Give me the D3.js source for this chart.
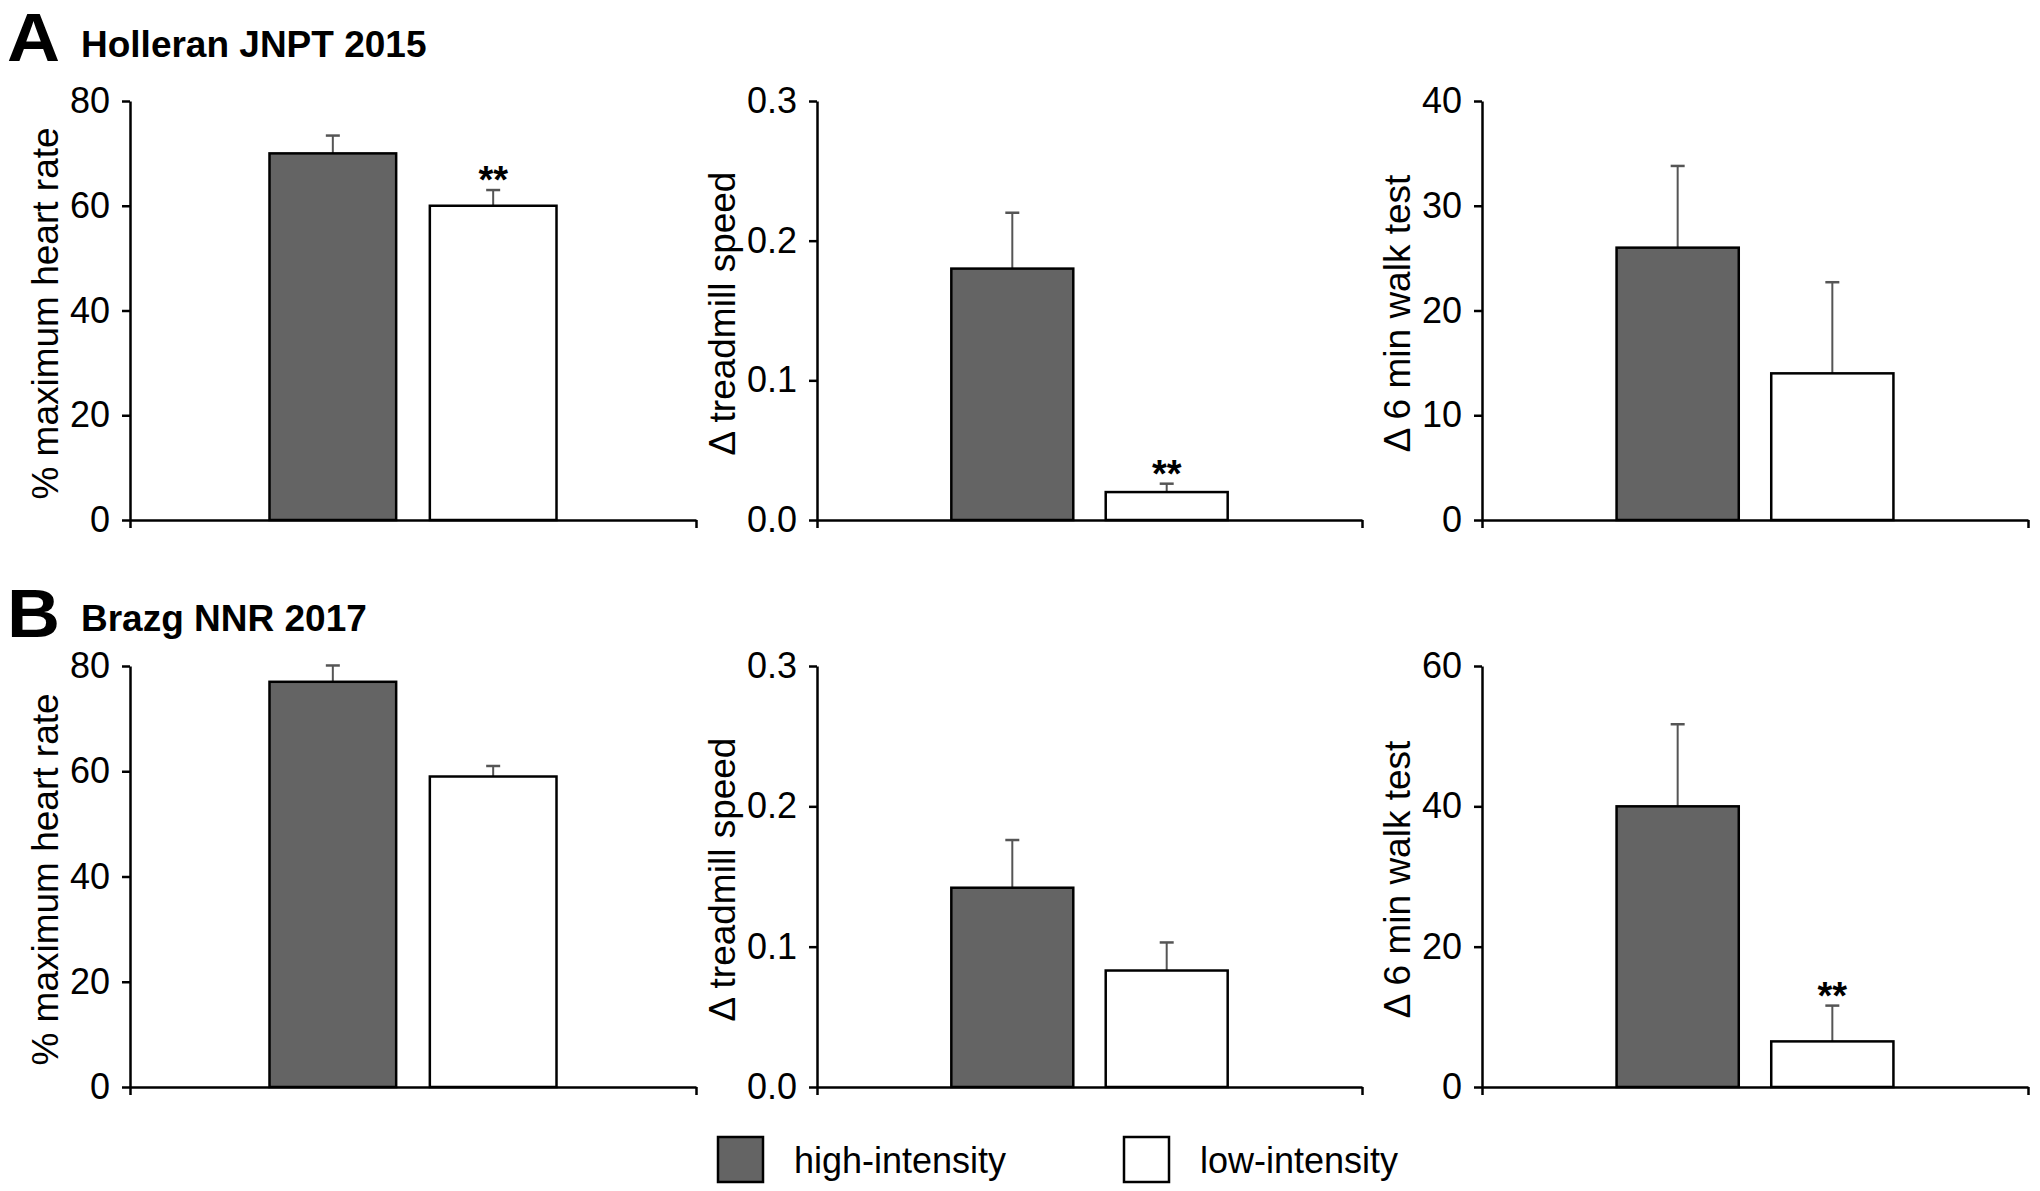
<!DOCTYPE html>
<html>
<head>
<meta charset="utf-8">
<script src="https://cdn.jsdelivr.net/npm/d3@7"></script>
<style>
  html, body { margin: 0; padding: 0; background: #fff; }
  svg { display: block; }
  text { font-family: "Liberation Sans", Arial, sans-serif; fill: #000; }
</style>
</head>
<body>
<svg id="chart" width="2040" height="1191"></svg>
<script>
// ---- data ----
const groups = ["high-intensity", "low-intensity"];
const panelLetters = ["A", "B"];
const studies = ["Holleran JNPT 2015", "Brazg NNR 2017"];
const measures = ["% maximum heart rate", "\u0394 treadmill speed", "\u0394 6 min walk test"];
const highMeans = [[70, 0.18, 26], [77, 0.142, 40]];
const highErr   = [[3.4, 0.04, 7.8], [3.1, 0.034, 11.7]];
const lowMeans  = [[60, 0.02, 14], [59, 0.083, 6.5]];
const lowErr    = [[3.0, 0.006, 8.7], [2.0, 0.02, 5.1]];
const yMax      = [[80, 0.3, 40], [80, 0.3, 60]];
const yTicks    = [[[0, 20, 40, 60, 80], [0, 0.1, 0.2, 0.3], [0, 10, 20, 30, 40]],
                   [[0, 20, 40, 60, 80], [0, 0.1, 0.2, 0.3], [0, 20, 40, 60]]];
const tickFormats = ["d", ".1f", "d"];
const sigLow    = [[true, true, false], [false, false, true]];
const sigLabel  = "**";
const groupFill = ["#646464", "#ffffff"];

// ---- layout ----
const axisX = [130, 817, 1482];
const axisW = [566, 545, 546];
const rowTop = [101, 666];
const rowBottom = [520, 1087];

const svg = d3.select("#chart");

for (let r = 0; r < 2; r++) {
  // panel letter + study title
  svg.append("text")
    .attr("x", 7).attr("y", r === 0 ? 61 : 637)
    .attr("font-size", 68).attr("font-weight", "bold")
    .attr("transform", `translate(${7},${r === 0 ? 61 : 637}) scale(1.08,1) translate(${-7},${-(r === 0 ? 61 : 637)})`)
    .text(panelLetters[r]);
  svg.append("text")
    .attr("x", 81).attr("y", r === 0 ? 57 : 631)
    .attr("font-size", 37).attr("font-weight", "bold")
    .text(studies[r]);

  for (let c = 0; c < 3; c++) {
    const g = svg.append("g").attr("transform", `translate(${axisX[c]},0)`);
    const y = d3.scaleLinear().domain([0, yMax[r][c]]).range([rowBottom[r], rowTop[r]]);
    const x = d3.scaleBand().domain(groups).range([0, axisW[c]])
      .paddingInner(0.21).paddingOuter(0.87);

    const means = [highMeans[r][c], lowMeans[r][c]];
    const errs = [highErr[r][c], lowErr[r][c]];
    const data = groups.map((gname, i) => ({ g: gname, v: means[i], e: errs[i], fill: groupFill[i], sig: i === 1 && sigLow[r][c] }));

    // error bars
    const eb = g.selectAll(".eb").data(data).enter().append("g");
    eb.append("line")
      .attr("x1", d => x(d.g) + x.bandwidth() / 2)
      .attr("x2", d => x(d.g) + x.bandwidth() / 2)
      .attr("y1", d => y(d.v))
      .attr("y2", d => y(d.v + d.e))
      .attr("stroke", "#555").attr("stroke-width", 2);
    eb.append("line")
      .attr("x1", d => x(d.g) + x.bandwidth() / 2 - 7)
      .attr("x2", d => x(d.g) + x.bandwidth() / 2 + 7)
      .attr("y1", d => y(d.v + d.e))
      .attr("y2", d => y(d.v + d.e))
      .attr("stroke", "#555").attr("stroke-width", 2.5);

    // bars
    g.selectAll(".bar").data(data).enter().append("rect")
      .attr("x", d => x(d.g))
      .attr("y", d => y(d.v))
      .attr("width", x.bandwidth())
      .attr("height", d => y(0) - y(d.v))
      .attr("fill", d => d.fill)
      .attr("stroke", "#000").attr("stroke-width", 2.5);

    // significance stars
    g.selectAll(".sig").data(data.filter(d => d.sig)).enter().append("text")
      .attr("x", d => x(d.g) + x.bandwidth() / 2)
      .attr("y", d => y(d.v + d.e) + 3)
      .attr("text-anchor", "middle")
      .attr("font-size", 38).attr("font-weight", "bold")
      .text(sigLabel);

    // y axis
    const yAxis = g.append("g")
      .call(d3.axisLeft(y).tickValues(yTicks[r][c]).tickFormat(d3.format(tickFormats[c]))
        .tickSize(8).tickSizeOuter(0).tickPadding(12));
    yAxis.selectAll("path, line").attr("stroke", "#000").attr("stroke-width", 2.5);
    yAxis.selectAll("text").attr("font-size", 36).attr("font-family", "Liberation Sans, Arial, sans-serif").attr("fill", "#000");

    // x axis baseline with downward end ticks
    const xl = d3.scaleLinear().domain([0, 1]).range([0, axisW[c]]);
    const xAxis = g.append("g").attr("transform", `translate(0,${y(0)})`)
      .call(d3.axisBottom(xl).tickValues([0, 1]).tickFormat("").tickSize(8).tickSizeOuter(0));
    xAxis.selectAll("path, line").attr("stroke", "#000").attr("stroke-width", 2.5);

    // y label
    const bb = yAxis.node().getBBox();
    g.append("text")
      .attr("transform", `translate(${bb.x - 12},${(rowTop[r] + rowBottom[r]) / 2 + 3}) rotate(-90)`)
      .attr("text-anchor", "middle")
      .attr("font-size", 37)
      .text(measures[c]);
  }
}

// legend
const legX = [718, 1124];
const leg = svg.selectAll(".leg").data(groups).enter().append("g")
  .attr("transform", (d, i) => `translate(${legX[i]},1137)`);
leg.append("rect").attr("width", 45).attr("height", 45)
  .attr("fill", (d, i) => groupFill[i]).attr("stroke", "#000").attr("stroke-width", 2.5);
leg.append("text").attr("x", 76).attr("y", 36).attr("font-size", 36).text(d => d);
</script>
</body>
</html>
